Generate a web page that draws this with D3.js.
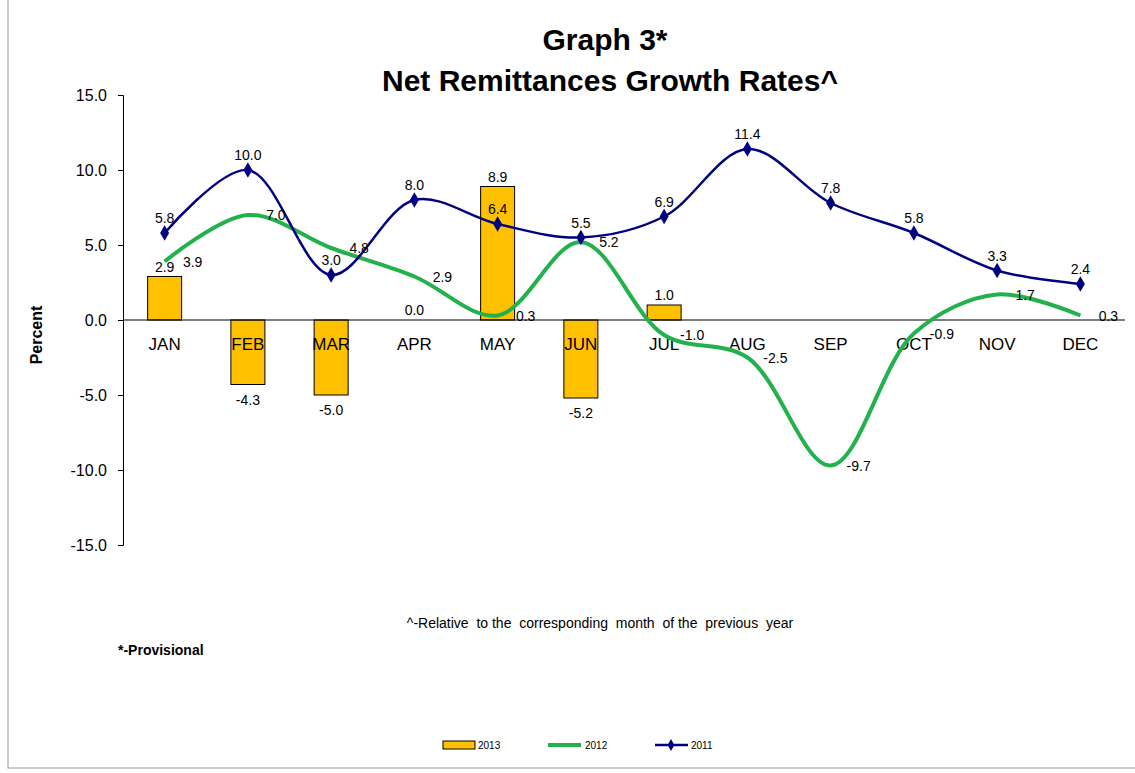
<!DOCTYPE html>
<html><head><meta charset="utf-8">
<script src="https://cdn.jsdelivr.net/npm/d3@7"></script>
<style>body{margin:0;background:#fff}text{font-family:Arial,"Liberation Sans",sans-serif;white-space:pre}</style>
</head><body><div id="chart"></div>
<script>
var months = ["JAN","FEB","MAR","APR","MAY","JUN","JUL","AUG","SEP","OCT","NOV","DEC"];
var s2013 = [2.9,-4.3,-5.0,0.0,8.9,-5.2,1.0,null,null,null,null,null];
var s2012 = [3.9,7.0,4.8,2.9,0.3,5.2,-1.0,-2.5,-9.7,-0.9,1.7,0.3];
var s2011 = [5.8,10.0,3.0,8.0,6.4,5.5,6.9,11.4,7.8,5.8,3.3,2.4];
var yTicks = [15,10,5,0,-5,-10,-15];

var width = 1135, height = 773;
var svg = d3.select("#chart").append("svg").attr("width", width).attr("height", height);

svg.append("rect").attr("x", 8).attr("y", -2).attr("width", 1140).attr("height", 770)
  .attr("fill", "none").attr("stroke", "#999");

var x = d3.scaleBand().domain(months).range([123, 1122]);
var y = d3.scaleLinear().domain([-15, 15]).range([545, 95]);
var cx = function (i) { return x(months[i]) + x.bandwidth() / 2; };
var fmt = function (d) { return d.toFixed(1); };

svg.append("text").attr("x", 605).attr("y", 50).attr("text-anchor", "middle")
  .style("font-size", "30px").style("font-weight", "bold").text("Graph 3*");
svg.append("text").attr("x", 610).attr("y", 91).attr("text-anchor", "middle")
  .style("font-size", "30px").style("font-weight", "bold").text("Net Remittances Growth Rates^");

// y axis
var yAxis = svg.append("g").attr("transform", "translate(123,0)")
  .call(d3.axisLeft(y).tickValues(yTicks).tickFormat(fmt).tickSize(5));
yAxis.select(".domain").attr("stroke", "#000");
yAxis.selectAll("text").style("font-size", "16px").attr("fill", "#000").attr("x", -16);

svg.append("text").attr("transform", "translate(42,335) rotate(-90)").attr("text-anchor", "middle")
  .style("font-size", "16px").style("font-weight", "bold").text("Percent");

// bars
s2013.forEach(function (d, i) {
  if (d === null) return;
  svg.append("rect")
    .attr("x", cx(i) - 17).attr("y", y(Math.max(0, d)))
    .attr("width", 34).attr("height", Math.abs(y(d) - y(0)))
    .attr("fill", "#FFC000").attr("stroke", "#000").attr("stroke-width", 1);
});

// x axis line and labels
svg.append("line").attr("x1", 123).attr("x2", 1125).attr("y1", y(0)).attr("y2", y(0)).attr("stroke", "#000");
svg.selectAll(".xl").data(months).enter().append("text")
  .attr("x", function (d, i) { return cx(i); }).attr("y", y(0) + 30)
  .attr("text-anchor", "middle").style("font-size", "17px").text(function (d) { return d; });

var line = d3.line().x(function (d, i) { return cx(i); }).y(function (d) { return y(d); })
  .curve(d3.curveCatmullRom.alpha(0.5));

svg.append("path").datum(s2012).attr("d", line).attr("fill", "none")
  .attr("stroke", "#22B14C").attr("stroke-width", 4);
svg.append("path").datum(s2011).attr("d", line).attr("fill", "none")
  .attr("stroke", "#000080").attr("stroke-width", 2.5);

var diamond = d3.symbol().type(d3.symbolDiamond).size(70);
svg.selectAll(".pt").data(s2011).enter().append("path").attr("d", diamond)
  .attr("transform", function (d, i) { return "translate(" + cx(i) + "," + y(d) + ")"; })
  .attr("fill", "#000080");

// labels
svg.selectAll(".l11").data(s2011).enter().append("text")
  .attr("x", function (d, i) { return cx(i); }).attr("y", function (d) { return y(d) - 10; })
  .attr("text-anchor", "middle").style("font-size", "14px").text(fmt);
svg.selectAll(".l12").data(s2012).enter().append("text")
  .attr("x", function (d, i) { return cx(i) + 28; }).attr("y", function (d) { return y(d) + 5; })
  .attr("text-anchor", "middle").style("font-size", "14px").text(fmt);
s2013.forEach(function (d, i) {
  if (d === null) return;
  svg.append("text").attr("x", cx(i)).attr("y", d >= 0 ? y(d) - 5 : y(d) + 20)
    .attr("text-anchor", "middle").style("font-size", "14px").text(fmt(d));
});

svg.append("text").attr("x", 600).attr("y", 628).attr("text-anchor", "middle")
  .style("font-size", "14px").text("^-Relative  to the  corresponding  month  of the  previous  year");
svg.append("text").attr("x", 118).attr("y", 655).style("font-size", "14px").style("font-weight", "bold").text("*-Provisional");

// legend
var lg = svg.append("g").attr("transform", "translate(0,745)");
lg.append("rect").attr("x", 443).attr("y", -4).attr("width", 32).attr("height", 8)
  .attr("fill", "#FFC000").attr("stroke", "#000");
lg.append("text").attr("x", 478).attr("y", 4).style("font-size", "10px").text("2013");
lg.append("line").attr("x1", 548).attr("x2", 581).attr("stroke", "#22B14C").attr("stroke-width", 4);
lg.append("text").attr("x", 585).attr("y", 4).style("font-size", "10px").text("2012");
lg.append("line").attr("x1", 655).attr("x2", 688).attr("stroke", "#000080").attr("stroke-width", 2.5);
lg.append("path").attr("d", d3.symbol().type(d3.symbolDiamond).size(40)).attr("transform", "translate(671,0)").attr("fill", "#000080");
lg.append("text").attr("x", 691).attr("y", 4).style("font-size", "10px").text("2011");
</script></body></html>
